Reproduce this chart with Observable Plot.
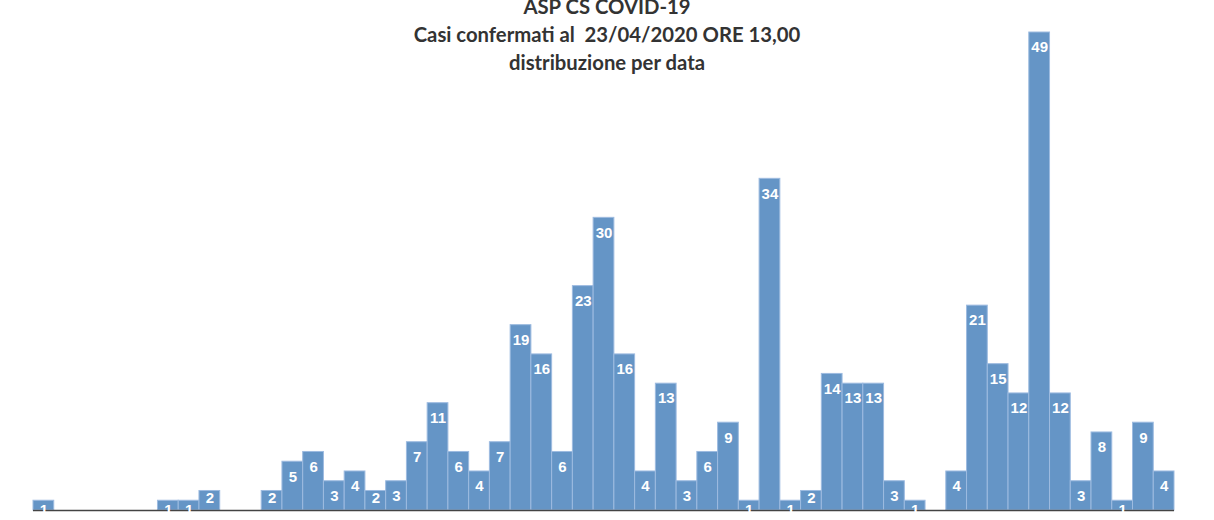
<!DOCTYPE html>
<html>
<head>
<meta charset="utf-8">
<script src="https://cdn.jsdelivr.net/npm/d3@7"></script>
<script src="https://cdn.jsdelivr.net/npm/@observablehq/plot@0.6"></script>
<style>
  html, body { margin: 0; padding: 0; background: #fff; }
  #wrap { position: relative; width: 1214px; height: 520px; overflow: hidden; }
  #title { position: absolute; left: 0; width: 1214px; top: -8px; text-align: center;
    font-family: Lato, "Open Sans", sans-serif; font-weight: bold; font-size: 20.3px;
    line-height: 28px; color: #333; pointer-events: none; }
</style>
</head>
<body>
<div id="wrap">
  <div id="chart"></div>
  <div id="title">ASP CS COVID-19<br>Casi confermati al&nbsp; 23/04/2020 ORE 13,00<br>distribuzione per data</div>
</div>
<script>
const days = d3.range(0, 55);
const cases = [1,0,0,0,0,0,1,1,2,0,0,2,5,6,3,4,2,3,7,11,6,4,7,19,16,6,23,30,16,4,13,3,6,9,1,34,1,2,14,13,13,3,1,0,4,21,15,12,49,12,3,8,1,9,4];
const data = days.map((d, i) => ({day: d, value: cases[i]}));
const bars = data.filter(d => d.value > 0);
const labelFont = {fill: "white", fontWeight: "bold", fontSize: 15, fontFamily: "Liberation Sans, Arial, sans-serif"};

const chart = Plot.plot({
  width: 1214,
  height: 520,
  marginLeft: 33,
  marginRight: 40,
  marginTop: 32,
  marginBottom: 10,
  x: {type: "band", domain: days, padding: 0, axis: null},
  y: {domain: [0, 49], axis: null},
  marks: [
    Plot.barY(bars, {x: "day", y: "value", fill: "#6595c6", stroke: "#9dbbe0", strokeWidth: 1}),
    Plot.ruleY([0], {stroke: "#444", strokeWidth: 1.5}),
    Plot.text(bars.filter(d => d.value >= 3), {x: "day", y: "value", text: d => String(d.value), dy: 15, ...labelFont}),
    Plot.text(bars.filter(d => d.value === 2), {x: "day", y: "value", text: d => String(d.value), dy: 7, ...labelFont}),
    Plot.text(bars.filter(d => d.value === 1), {x: "day", y: "value", text: d => String(d.value), dy: 9, ...labelFont})
  ]
});
document.getElementById("chart").appendChild(chart);
</script>
</body>
</html>
